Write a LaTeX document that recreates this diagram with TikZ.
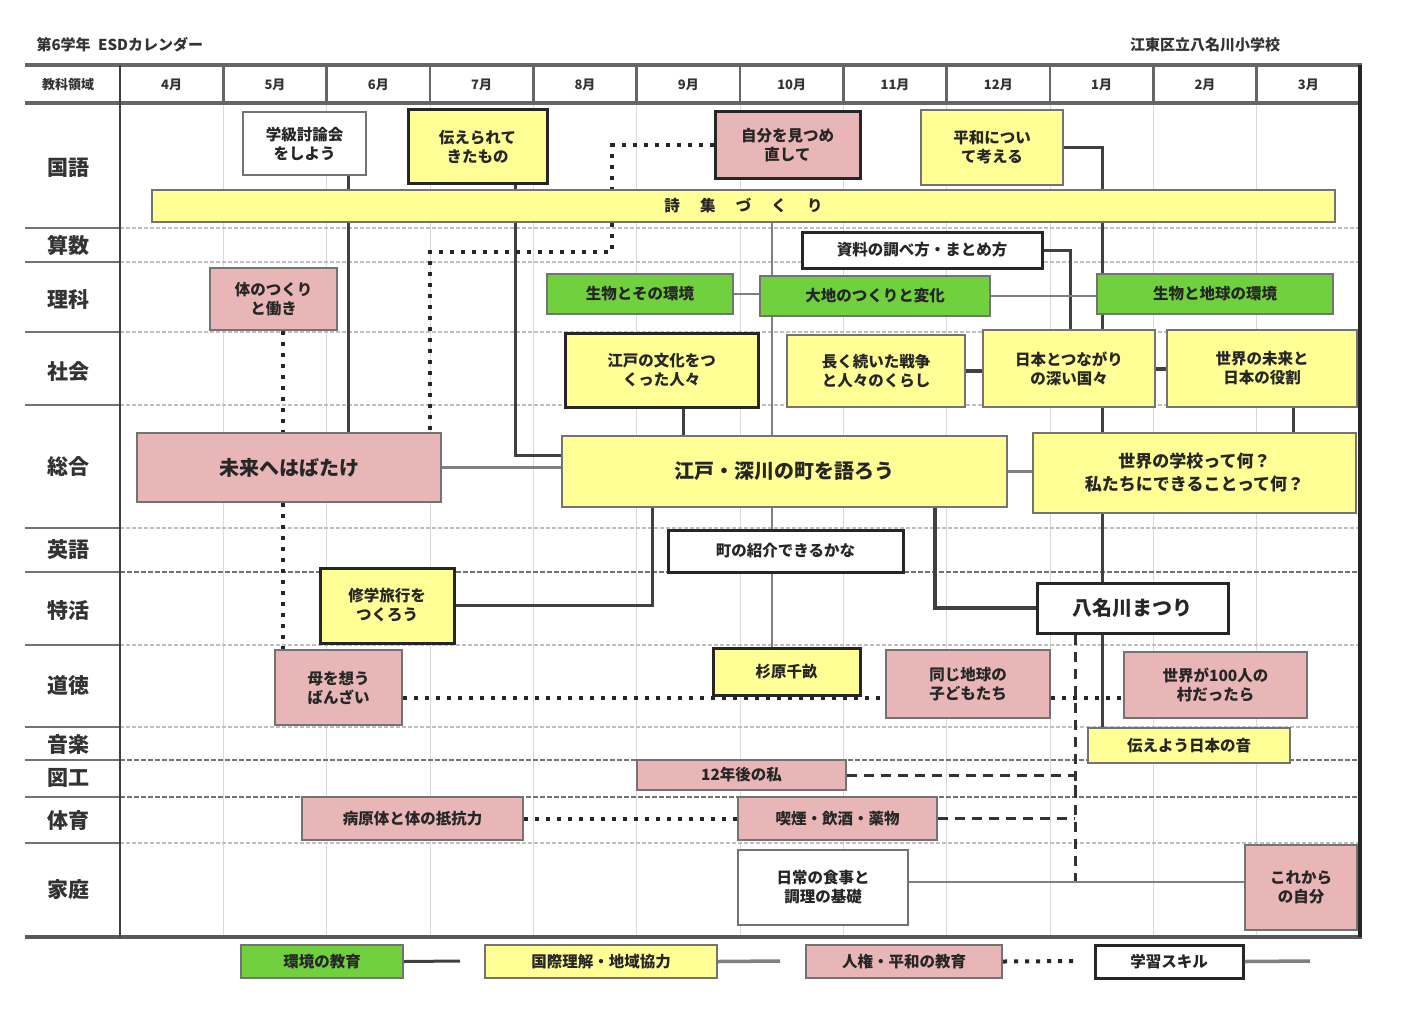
\documentclass[tikz,border=0pt]{standalone}
\usepackage{fontspec}
\setmainfont{Noto Sans CJK JP}
\usetikzlibrary{calc}
\definecolor{ylw}{RGB}{255,255,150}
\definecolor{pnk}{RGB}{232,182,182}
\definecolor{grn}{RGB}{112,208,62}
\tikzset{
 box/.style={draw=black!55, line width=2.2pt, align=center, inner sep=1pt, font=\fontsize{15.5}{19}\selectfont\bfseries, text=black!85},
 thick box/.style={box, draw=black!85, line width=3pt},
 yb/.style={fill=ylw}, pb/.style={fill=pnk}, gb/.style={fill=grn}, wb/.style={fill=white},
 big/.style={font=\fontsize{20}{24}\selectfont\bfseries},
 solidln/.style={draw=black!75, line width=3pt},
 grayln/.style={draw=black!50, line width=2.2pt},
 dotln/.style={draw=black!85, line width=4pt, dash pattern=on 4pt off 7pt},
 dashln/.style={draw=black!80, line width=3pt, dash pattern=on 10pt off 7pt},
 gridv/.style={draw=black!15, line width=1pt},
 gridh/.style={draw=black!25, line width=1.5pt, dash pattern=on 4pt off 2pt},
 gridhd/.style={draw=black!55, line width=2pt, dash pattern=on 5pt off 2pt},
 lefth/.style={draw=black!55, line width=2.5pt},
 rowlab/.style={font=\fontsize{21}{24}\selectfont\bfseries, text=black!80},
 monlab/.style={font=\fontsize{13}{15}\selectfont\bfseries, text=black!80},
 ttl/.style={font=\fontsize{15}{18}\selectfont\bfseries, text=black!80},
}
\newcommand\mybox[7]{\node[#2, minimum width={(#5-#3)*1pt}, minimum height={(#6-#4)*1pt}] (#1) at ({(#3+#5)/2},{(#4+#6)/2}) {#7};}
\begin{document}
\begin{tikzpicture}[x=1pt,y=-1pt]
\useasboundingbox (0,0) rectangle (1404,1014);
\fill[white] (0,0) rectangle (1404,1014);
% titles
\node[ttl, anchor=west] (title) at (33,45) {第6学年\hspace{0.5em}ESDカレンダー};
\node[ttl] (school) at (1205,45) {江東区立八名川小学校};
% grid verticals
\foreach \i in {1,...,11} {
  \draw[gridv] ({120+103.333*\i},103) -- ({120+103.333*\i},937);
  \draw[black!60, line width=2.5pt] ({120+103.333*\i},65) -- ({120+103.333*\i},103);
}
% row lines
\foreach \yy in {228,262,332,405,528,645,727,843} {
  \draw[gridh] (120,\yy) -- (1360,\yy);
  \draw[lefth] (25,\yy) -- (120,\yy);
}
\foreach \yy in {572,760,797} {
  \draw[gridhd] (120,\yy) -- (1360,\yy);
  \draw[lefth] (25,\yy) -- (120,\yy);
}
% frame
\draw[black!60, line width=3.5pt] (25,65) -- (1362,65);
\draw[black!60, line width=3.5pt] (25,103) -- (1360,103);
\draw[black!65, line width=3.5pt] (25,937) -- (1362,937);
\draw[black!75, line width=2.5pt] (120,65) -- (120,937);
\draw[black!85, line width=3.5pt] (1360,65) -- (1360,937);
% header
\node[monlab] (hd) at (68,85) {教科領域};
\foreach \m [count=\i from 0] in {4月,5月,6月,7月,8月,9月,10月,11月,12月,1月,2月,3月} {
  \node[monlab] (m\i) at ({120+103.333*(\i+0.5)},85) {\m};
}
% row labels
\node[rowlab] (r1) at (68,168) {国語};
\node[rowlab] (r2) at (68,245) {算数};
\node[rowlab] (r3) at (68,300) {理科};
\node[rowlab] (r4) at (68,372) {社会};
\node[rowlab] (r5) at (68,467) {総合};
\node[rowlab] (r6) at (68,550) {英語};
\node[rowlab] (r7) at (68,610) {特活};
\node[rowlab] (r8) at (68,686) {道徳};
\node[rowlab] (r9) at (68,744) {音楽};
\node[rowlab] (r10) at (68,778) {図工};
\node[rowlab] (r11) at (68,821) {体育};
\node[rowlab] (r12) at (68,890) {家庭};
% boxes
\mybox{gakkyu}{box,wb}{243}{112}{366}{175}{学級討論会\\をしよう}
\mybox{tsutae}{thick box,yb}{408}{110}{547}{183}{伝えられて\\きたもの}
\mybox{jibun}{thick box,pb}{715}{112}{860}{178}{自分を見つめ\\直して}
\mybox{heiwa}{box,yb}{921}{110}{1063}{185}{平和につい\\て考える}
\mybox{bar}{box,yb}{152}{190}{1335}{222}{詩\hspace{1.3em}集\hspace{1.3em}づ\hspace{1.3em}く\hspace{1.3em}り}
\mybox{shiryo}{thick box,wb}{802}{232}{1042}{268}{資料の調べ方・まとめ方}
\mybox{karada}{box,pb}{210}{268}{337}{330}{体のつくり\\と働き}
\mybox{seibutsuA}{box,gb}{547}{274}{733}{314}{生物とその環境}
\mybox{daichi}{box,gb}{760}{276}{990}{316}{大地のつくりと変化}
\mybox{seibutsuB}{box,gb}{1097}{274}{1333}{314}{生物と地球の環境}
\mybox{edobunka}{thick box,yb}{565}{333}{758}{407}{江戸の文化をつ\\くった人々}
\mybox{nagaku}{box,yb}{787}{335}{965}{407}{長く続いた戦争\\と人々のくらし}
\mybox{nihon}{box,yb}{983}{330}{1155}{407}{日本とつながり\\の深い国々}
\mybox{miraiB}{box,yb}{1167}{330}{1357}{407}{世界の未来と\\日本の役割}
\mybox{mirai}{box,pb,big}{137}{433}{441}{502}{未来へはばたけ}
\mybox{edo}{box,yb,big}{562}{436}{1007}{507}{江戸・深川の町を語ろう}
\mybox{sekai}{box,yb,font=\fontsize{17}{23}\selectfont\bfseries}{1033}{433}{1356}{513}{世界の学校って何？\\私たちにできることって何？}
\mybox{machi}{thick box,wb}{668}{530}{903}{572}{町の紹介できるかな}
\mybox{shuga}{thick box,yb}{320}{568}{454}{643}{修学旅行を\\つくろう}
\mybox{yana}{thick box,wb,big}{1037}{583}{1228}{633}{八名川まつり}
\mybox{haha}{box,pb}{275}{650}{402}{725}{母を想う\\ばんざい}
\mybox{sugi}{thick box,yb}{713}{648}{860}{695}{杉原千畝}
\mybox{onaji}{box,pb}{886}{650}{1050}{718}{同じ地球の\\子どもたち}
\mybox{sekaiH}{box,pb}{1124}{652}{1307}{718}{世界が100人の\\村だったら}
\mybox{ongaku}{box,yb}{1088}{728}{1290}{763}{伝えよう日本の音}
\mybox{zuko}{box,pb}{637}{760}{846}{790}{12年後の私}
\mybox{byogen}{box,pb}{302}{797}{523}{840}{病原体と体の抵抗力}
\mybox{kitsuen}{box,pb}{738}{797}{937}{840}{喫煙・飲酒・薬物}
\mybox{nichijo}{box,wb}{738}{850}{908}{925}{日常の食事と\\調理の基礎}
\mybox{korekara}{box,pb}{1245}{845}{1357}{930}{これから\\の自分}
% legend
\mybox{Lg}{box,gb}{241}{945}{403}{978}{環境の教育}
\mybox{Ly}{box,yb}{485}{945}{717}{978}{国際理解・地域協力}
\mybox{Lp}{box,pb}{806}{945}{1002}{978}{人権・平和の教育}
\mybox{Lw}{thick box,wb}{1095}{945}{1243}{978}{学習スキル}
\coordinate (sg) at (460,961);
\coordinate (sy) at (780,961);
\coordinate (sp) at (1080,961);
\coordinate (sw) at (1310,961);
\draw[solidln] (Lg.east) -- (sg);
\draw[grayln, line width=3.5pt] (Ly.east) -- (sy);
\draw[dotln] (Lp.east) -- (sp);
\draw[grayln, line width=3.5pt] (Lw.east) -- (sw);
% x/y guide coordinates
\coordinate (vA) at (348,0);
\coordinate (vB) at (515,0);
\coordinate (hB) at (0,455);
\coordinate (vC) at (612,0);
\coordinate (vC2) at (430,0);
\coordinate (hC) at (0,252);
\coordinate (vD) at (283,0);
\coordinate (vE) at (772,0);
\coordinate (vF) at (1070,0);
\coordinate (vG) at (1102,0);
\coordinate (vH) at (1293,0);
\coordinate (vI) at (683,0);
\coordinate (vJ) at (652,0);
\coordinate (vK) at (935,0);
\coordinate (vL) at (1075,0);
\coordinate (hM) at (0,882);
\coordinate (hN) at (0,698);
% connectors
\draw[solidln] (gakkyu.south -| vA) -- (bar.north -| vA);
\draw[solidln] (bar.south -| vA) -- (mirai.north -| vA);
\draw[solidln] (tsutae.south -| vB) -- (bar.north -| vB);
\draw[solidln] (bar.south -| vB) |- (edo.west |- hB);
\draw[dotln] (jibun.west) -| (bar.north -| vC);
\draw[dotln] (bar.south -| vC) |- (vC2 |- hC) -- (mirai.north -| vC2);
\draw[dotln] (karada.south -| vD) -- (mirai.north -| vD);
\draw[dotln] (mirai.south -| vD) -- (haha.north -| vD);
\draw[grayln] (bar.south -| vE) -- (daichi.north -| vE);
\draw[grayln] (daichi.south -| vE) -- (edo.north -| vE);
\draw[grayln] (edo.south -| vE) -- (machi.north -| vE);
\draw[grayln] (machi.south -| vE) -- (sugi.north -| vE);
\draw[solidln] (shiryo.east) -| (nihon.north -| vF);
\draw[solidln] (heiwa.east) -| (bar.north -| vG);
\draw[solidln] (bar.south -| vG) -- (seibutsuB.north -| vG);
\draw[solidln] (seibutsuB.south -| vG) -- (nihon.north -| vG);
\draw[solidln] (nihon.south -| vG) -- (sekai.north -| vG);
\draw[solidln] (sekai.south -| vG) -- (yana.north -| vG);
\draw[solidln] (yana.south -| vG) -- (ongaku.north -| vG);
\draw[solidln] (miraiB.south -| vH) -- (sekai.north -| vH);
\draw[solidln] (edobunka.south -| vI) -- (edo.north -| vI);
\draw[solidln] (edo.south -| vJ) |- (shuga.east);
\draw[solidln, line width=4pt] (edo.south -| vK) |- (yana.west);
\draw[grayln] (seibutsuA.east) -- (daichi.west |- seibutsuA.east);
\draw[grayln] (daichi.east) -- (seibutsuB.west |- daichi.east);
\draw[solidln, line width=4pt] (nagaku.east) -- (nihon.west |- nagaku.east);
\draw[solidln, line width=4pt] (nihon.east) -- (miraiB.west |- nihon.east);
\draw[grayln, line width=3.5pt] (mirai.east) -- (mirai.east -| edo.west);
\draw[grayln, line width=3.5pt] (edo.east) -- (edo.east -| sekai.west);
\draw[dotln] (haha.east |- hN) -- (onaji.west |- hN);
\draw[dotln] (onaji.east |- hN) -- (sekaiH.west |- hN);
\draw[dashln] (yana.south -| vL) -- (vL |- hM);
\draw[dashln] (zuko.east) -| (vL |- kitsuen.north);
\draw[dotln] (byogen.east) -- (kitsuen.west);
\draw[dashln] (kitsuen.east) -- (kitsuen.east -| vL);
\draw[grayln] (nichijo.east |- hM) -- (korekara.west |- hM);
\end{tikzpicture}
\end{document}
